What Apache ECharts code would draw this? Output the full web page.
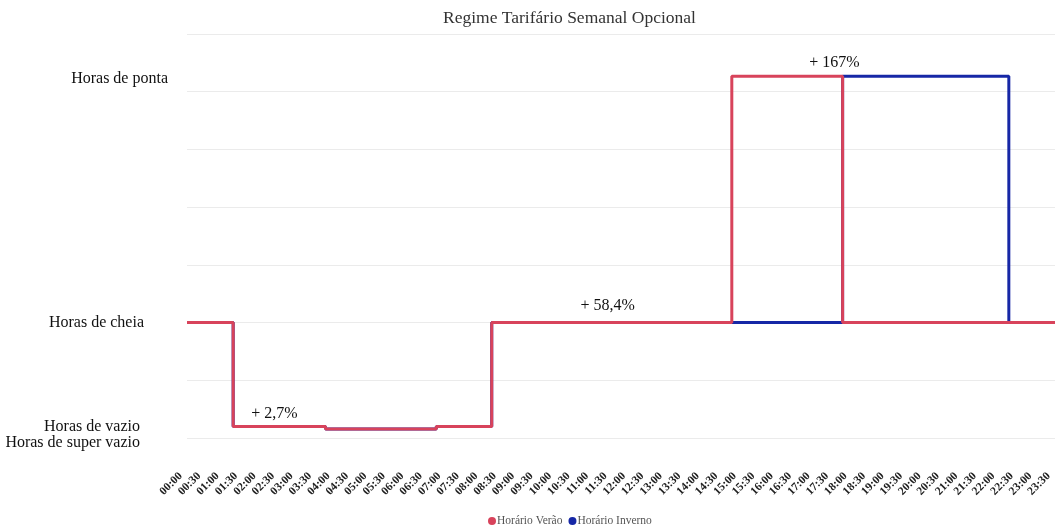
<!DOCTYPE html>
<html>
<head>
<meta charset="utf-8">
<title>Regime Tarifário Semanal Opcional</title>
<script src="https://cdn.jsdelivr.net/npm/echarts@6/dist/echarts.min.js"></script>
<style>
  html, body { margin: 0; padding: 0; background: #ffffff; }
  #chart { width: 1055px; height: 525px; }
</style>
</head>
<body>
<div id="chart"></div>
<script>
// Half-hour slots of the day
const times = [
  '00:00','00:30','01:00','01:30','02:00','02:30','03:00','03:30',
  '04:00','04:30','05:00','05:30','06:00','06:30','07:00','07:30',
  '08:00','08:30','09:00','09:30','10:00','10:30','11:00','11:30',
  '12:00','12:30','13:00','13:30','14:00','14:30','15:00','15:30',
  '16:00','16:30','17:00','17:30','18:00','18:30','19:00','19:30',
  '20:00','20:30','21:00','21:30','22:00','22:30','23:00','23:30'
];

// Tariff level heights
const levelNames  = ['Horas de super vazio', 'Horas de vazio', 'Horas de cheia', 'Horas de ponta'];
const levelValues = [0.155, 0.2, 2, 6.27];

// Level per half-hour slot, summer schedule
const verao = [
  2, 2, 2, 0.2, 0.2, 0.2, 0.2, 0.2,
  0.155, 0.155, 0.155, 0.155, 0.155, 0.155, 0.2, 0.2,
  0.2, 2, 2, 2, 2, 2, 2, 2,
  2, 2, 2, 2, 2, 2, 6.27, 6.27,
  6.27, 6.27, 6.27, 6.27, 2, 2, 2, 2,
  2, 2, 2, 2, 2, 2, 2, 2
];

// Level per half-hour slot, winter schedule
const inverno = [
  2, 2, 2, 0.2, 0.2, 0.2, 0.2, 0.2,
  0.155, 0.155, 0.155, 0.155, 0.155, 0.155, 0.2, 0.2,
  0.2, 2, 2, 2, 2, 2, 2, 2,
  2, 2, 2, 2, 2, 2, 2, 2,
  2, 2, 2, 2, 6.27, 6.27, 6.27, 6.27,
  6.27, 6.27, 6.27, 6.27, 6.27, 2, 2, 2
];

// Price step notes, attached to a slot of the summer line
const noteTexts   = ['+ 2,7%', '+ 58,4%', '+ 167%'];
const noteSlots   = [5, 23, 35];
const noteOffsets = [[-5, 0], [-4, -4], [1, 0]];

const serif = '"Liberation Serif", "DejaVu Serif", serif';

function buildData(values, withNotes) {
  return values.map(function (v, i) {
    const k = withNotes ? noteSlots.indexOf(i) : -1;
    if (k < 0) return v;
    return {
      value: v,
      label: {
        show: true,
        position: 'top',
        distance: 5,
        offset: noteOffsets[k],
        formatter: noteTexts[k],
        fontFamily: serif,
        fontSize: 16,
        color: '#111'
      }
    };
  });
}

// Per-level label styling for the y axis
const levelRich = {
  sv: { fontFamily: serif, fontSize: 16, color: '#111', padding: [27, 28, 0, 0] },
  v:  { fontFamily: serif, fontSize: 16, color: '#111', padding: [0, 28, 0, 0] },
  c:  { fontFamily: serif, fontSize: 16, color: '#111', padding: [0, 24, 0, 0] },
  p:  { fontFamily: serif, fontSize: 16, color: '#111', padding: [5, 0, 0, 0] }
};
const levelKeys = ['sv', 'v', 'c', 'p'];

const chart = echarts.init(document.getElementById('chart'), null, { renderer: 'canvas' });

chart.setOption({
  animation: false,
  backgroundColor: '#ffffff',
  title: {
    text: 'Regime Tarifário Semanal Opcional',
    left: 438,
    top: 4,
    textStyle: { fontFamily: serif, fontSize: 17.5, fontWeight: 'normal', color: '#333' }
  },
  legend: {
    data: ['Horário Verão', 'Horário Inverno'],
    left: 483,
    top: 510,
    icon: 'circle',
    itemWidth: 8,
    itemHeight: 8,
    itemGap: 6,
    textStyle: { fontFamily: serif, fontSize: 11.5, color: '#555', padding: [0, 0, 0, -4] }
  },
  grid: {
    left: 187,
    right: 0,
    top: 34,
    bottom: 87,
    outerBoundsMode: 'none'
  },
  xAxis: {
    type: 'category',
    data: times,
    boundaryGap: false,
    axisLine: { show: false },
    axisTick: { show: false },
    splitLine: { show: false },
    axisLabel: {
      interval: 0,
      rotate: 45,
      margin: 30,
      formatter: function (t) { return '{t|' + t + '}'; },
      rich: {
        t: {
          fontFamily: serif,
          fontSize: 11.5,
          fontWeight: 'bold',
          color: '#222',
          padding: [0, 9, 0, 0]
        }
      }
    }
  },
  yAxis: {
    type: 'value',
    min: 0,
    max: 7,
    interval: 1,
    axisLine: { show: false },
    axisTick: { show: false },
    splitLine: { show: true, lineStyle: { color: '#ebebeb', width: 1 } },
    axisLabel: {
      customValues: levelValues,
      margin: 19,
      formatter: function (val) {
        const i = levelValues.indexOf(val);
        if (i < 0) return '';
        return '{' + levelKeys[i] + '|' + levelNames[i] + '}';
      },
      rich: levelRich
    }
  },
  series: [
    {
      name: 'Horário Verão',
      type: 'line',
      step: 'middle',
      z: 3,
      showSymbol: true,
      symbol: 'circle',
      symbolSize: 0,
      color: '#d8435b',
      lineStyle: { color: '#d8435b', width: 3 },
      data: buildData(verao, true)
    },
    {
      name: 'Horário Inverno',
      type: 'line',
      step: 'middle',
      z: 2,
      showSymbol: false,
      color: '#1627a6',
      lineStyle: { color: '#1627a6', width: 3 },
      data: buildData(inverno, false)
    }
  ]
});
</script>
</body>
</html>
